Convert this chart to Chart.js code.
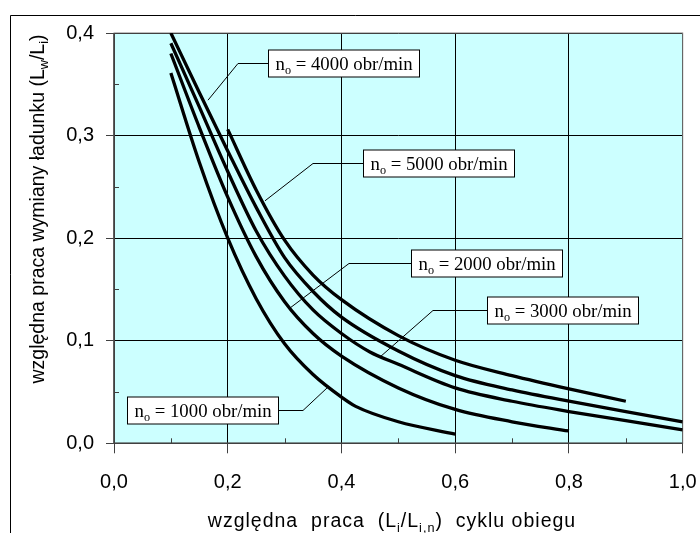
<!DOCTYPE html>
<html>
<head>
<meta charset="utf-8">
<script src="https://cdn.jsdelivr.net/npm/chart.js@4.4.1/dist/chart.umd.min.js"></script>
<style>
  html, body { margin: 0; padding: 0; background: #fff; }
  #wrap { position: relative; width: 700px; height: 533px; }
</style>
</head>
<body>
<div id="wrap"><canvas id="chart" width="700" height="533"></canvas></div>
<script>
// axis ticks
const xTickValues = [0, 0.2, 0.4, 0.6, 0.8, 1.0];
const xTickLabels = ['0,0', '0,2', '0,4', '0,6', '0,8', '1,0'];
const yTickValues = [0, 0.1, 0.2, 0.3, 0.4];
const yTickLabels = ['0,0', '0,1', '0,2', '0,3', '0,4'];
const xMinorTicks = [0.1, 0.3, 0.5, 0.7, 0.9];
const yMinorTicks = [0.05, 0.15, 0.25, 0.35];

// curves, one per engine speed
const speeds = ['1000', '2000', '3000', '4000', '5000'];

const x1000 = [0.1, 0.15, 0.2, 0.25, 0.3, 0.35, 0.4, 0.425, 0.5, 0.6];
const y1000 = [0.361, 0.274, 0.2, 0.141, 0.097, 0.067, 0.045, 0.036, 0.021, 0.009];

const x2000 = [0.1, 0.15, 0.2, 0.25, 0.3, 0.35, 0.4, 0.5, 0.6, 0.7, 0.8];
const y2000 = [0.38, 0.308, 0.24, 0.182, 0.138, 0.107, 0.085, 0.054, 0.033, 0.021, 0.012];

const x3000 = [0.1, 0.15, 0.2, 0.25, 0.3, 0.35, 0.4, 0.45, 0.5, 0.6, 0.7, 0.8, 0.9, 1.0];
const y3000 = [0.39, 0.328, 0.265, 0.207, 0.163, 0.13, 0.107, 0.089, 0.077, 0.054, 0.041, 0.031, 0.022, 0.013];

const x4000 = [0.1, 0.15, 0.2, 0.25, 0.3, 0.35, 0.4, 0.5, 0.6, 0.7, 0.8, 0.9, 1.0];
const y4000 = [0.4, 0.342, 0.285, 0.23, 0.181, 0.148, 0.123, 0.09, 0.066, 0.052, 0.041, 0.031, 0.021];

const x5000 = [0.2, 0.25, 0.3, 0.35, 0.4, 0.5, 0.6, 0.7, 0.8, 0.9];
const y5000 = [0.306, 0.247, 0.198, 0.164, 0.14, 0.105, 0.081, 0.066, 0.053, 0.041];

const seriesX = [x1000, x2000, x3000, x4000, x5000];
const seriesY = [y1000, y2000, y3000, y4000, y5000];

const sans = '"Liberation Sans", Arial, sans-serif';
const serif = '"Liberation Serif", "Times New Roman", serif';

// label boxes: where the leader meets the box, the elbow and the tip on the curve
const callouts = [
  { speed: '4000', side: 'left',  at: [0.2708, 0.3712], elbow: 0.218,  tip: [0.1653, 0.3345] },
  { speed: '5000', side: 'left',  at: [0.4378, 0.2728], elbow: 0.3499, tip: [0.2655, 0.2364] },
  { speed: '2000', side: 'left',  at: [0.5222, 0.1753], elbow: 0.4132, tip: [0.3095, 0.1319] },
  { speed: '3000', side: 'left',  at: [0.6559, 0.1304], elbow: 0.5609, tip: [0.4677, 0.0841] },
  { speed: '1000', side: 'right', at: [0.2884, 0.032],  elbow: 0.3323, tip: [0.3745, 0.0539] }
];

// text with subscripts, optional extra spacing between characters
function partFont(p, size, family) {
  return (p.sub ? size * 0.65 : size) + 'px ' + family;
}

function richWidth(ctx, parts, size, family, spacing) {
  spacing = spacing || 0;
  return parts.reduce((s, p) => {
    ctx.font = partFont(p, size, family);
    return s + ctx.measureText(p.t).width + spacing * p.t.length;
  }, 0);
}

function drawRich(ctx, parts, x, y, size, family, align, spacing) {
  spacing = spacing || 0;
  const total = richWidth(ctx, parts, size, family, spacing);
  let cx = align === 'center' ? x - total / 2 : x;
  parts.forEach(p => {
    ctx.font = partFont(p, size, family);
    const yy = p.sub ? y + size * 0.25 : y;
    if (!spacing) {
      ctx.fillText(p.t, cx, yy);
      cx += ctx.measureText(p.t).width;
    } else {
      for (const ch of p.t) {
        ctx.fillText(ch, cx, yy);
        cx += ctx.measureText(ch).width + spacing;
      }
    }
  });
  return total;
}

const decor = {
  id: 'decor',
  beforeDraw(chart) {
    const { ctx, chartArea: a } = chart;
    ctx.save();
    ctx.fillStyle = '#fff';
    ctx.fillRect(0, 0, chart.width, chart.height);
    ctx.strokeStyle = '#000';
    ctx.lineWidth = 1;
    ctx.beginPath();
    ctx.moveTo(10.5, chart.height);
    ctx.lineTo(10.5, 15.5);
    ctx.lineTo(chart.width, 15.5);
    ctx.stroke();
    ctx.fillStyle = '#ccffff';
    ctx.fillRect(a.left, a.top, a.right - a.left, a.bottom - a.top);
    ctx.restore();
  },
  beforeDatasetsDraw(chart) {
    const { ctx, chartArea: a, scales } = chart;
    ctx.save();
    ctx.strokeStyle = '#808080';
    ctx.lineWidth = 1;
    ctx.strokeRect(a.left, a.top, a.right - a.left, a.bottom - a.top);
    ctx.strokeStyle = '#404040';
    ctx.lineWidth = 1.5;
    ctx.beginPath();
    ctx.moveTo(a.left, a.top);
    ctx.lineTo(a.left, a.bottom);
    ctx.lineTo(a.right, a.bottom);
    ctx.stroke();
    ctx.lineWidth = 1;
    ctx.beginPath();
    xMinorTicks.forEach(v => {
      const px = Math.round(scales.x.getPixelForValue(v)) + 0.5;
      ctx.moveTo(px, a.bottom);
      ctx.lineTo(px, a.bottom - 5);
    });
    yMinorTicks.forEach(v => {
      const py = Math.round(scales.y.getPixelForValue(v)) + 0.5;
      ctx.moveTo(a.left, py);
      ctx.lineTo(a.left + 5, py);
    });
    ctx.stroke();
    ctx.restore();
  },
  afterDatasetsDraw(chart) {
    const { ctx, scales } = chart;
    const sx = v => scales.x.getPixelForValue(v);
    const sy = v => scales.y.getPixelForValue(v);
    ctx.save();
    ctx.fillStyle = '#000';
    ctx.textBaseline = 'alphabetic';
    callouts.forEach(c => {
      const parts = [{ t: 'n' }, { t: 'o', sub: true }, { t: ' = ' + c.speed + ' obr/min' }];
      const w = Math.round(richWidth(ctx, parts, 18.8, serif) + 14);
      const h = 27;
      const ax = sx(c.at[0]), ay = Math.round(sy(c.at[1])) + 0.5;
      const left = Math.round(c.side === 'left' ? ax : ax - w) + 0.5;
      // leader
      ctx.strokeStyle = '#000';
      ctx.lineWidth = 1;
      ctx.beginPath();
      ctx.moveTo(c.side === 'left' ? left : left + w, ay);
      ctx.lineTo(sx(c.elbow), ay);
      ctx.lineTo(sx(c.tip[0]), sy(c.tip[1]));
      ctx.stroke();
      // box
      ctx.fillStyle = '#fff';
      ctx.fillRect(left, ay - h / 2, w, h);
      ctx.strokeRect(left, ay - h / 2, w, h);
      ctx.fillStyle = '#000';
      drawRich(ctx, parts, left + 7, ay + 6, 18.8, serif, 'left');
    });
    // axis titles
    drawRich(ctx, [
      { t: 'względna  praca  (L' }, { t: 'i', sub: true }, { t: '/L' }, { t: 'i,n', sub: true },
      { t: ')  cyklu obiegu' }
    ], 392, 527, 19.5, sans, 'center', 1);
    ctx.translate(43.5, 209);
    ctx.rotate(-Math.PI / 2);
    drawRich(ctx, [
      { t: 'względna praca wymiany ładunku (L' }, { t: 'w', sub: true }, { t: '/L' }, { t: 'i', sub: true },
      { t: ')' }
    ], 0, 0, 19.5, sans, 'center');
    ctx.restore();
  }
};

const datasets = speeds.map((s, i) => ({
  label: 'n = ' + s + ' obr/min',
  data: seriesX[i].map((x, j) => ({ x: x, y: seriesY[i][j] })),
  borderColor: '#000',
  borderWidth: 3.3,
  pointRadius: 0,
  fill: false,
  cubicInterpolationMode: 'monotone'
}));

new Chart(document.getElementById('chart'), {
  type: 'line',
  data: { datasets: datasets },
  options: {
    responsive: false,
    animation: false,
    layout: { padding: { top: 33, right: 17.3, left: 0, bottom: 0 } },
    plugins: { legend: { display: false }, tooltip: { enabled: false } },
    scales: {
      x: {
        type: 'linear',
        min: 0,
        max: 1,
        afterBuildTicks: s => { s.ticks = xTickValues.map(v => ({ value: v })); },
        ticks: {
          callback: (v, i) => xTickLabels[i],
          color: '#000',
          font: { family: sans, size: 20 },
          padding: 17,
          maxRotation: 0,
          autoSkip: false
        },
        grid: { color: '#000', lineWidth: 1, tickLength: 10, tickColor: '#404040' },
        border: { display: false },
        afterFit: s => { s.height = 533 - 443.3; s.paddingLeft = 0; s.paddingRight = 0; }
      },
      y: {
        type: 'linear',
        min: 0,
        max: 0.4,
        afterBuildTicks: s => { s.ticks = yTickValues.map(v => ({ value: v })); },
        ticks: {
          callback: (v, i) => yTickLabels[i],
          color: '#000',
          font: { family: sans, size: 20 },
          padding: 12,
          autoSkip: false
        },
        grid: { color: '#000', lineWidth: 1, tickLength: 8, tickColor: '#404040' },
        border: { display: false },
        afterFit: s => { s.width = 114; s.paddingTop = 0; s.paddingBottom = 0; }
      }
    }
  },
  plugins: [decor]
});
</script>
</body>
</html>
